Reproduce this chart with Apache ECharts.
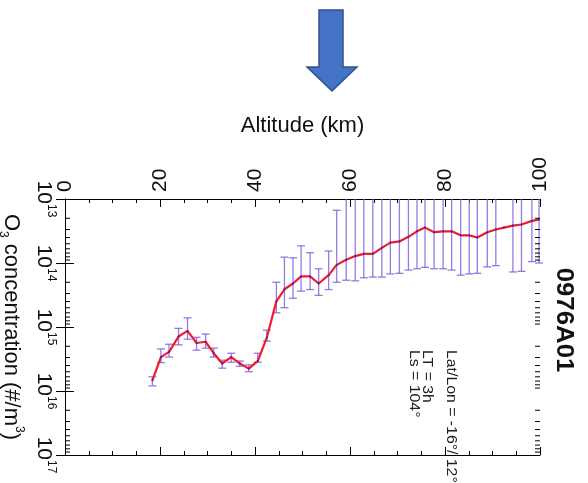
<!DOCTYPE html>
<html><head><meta charset="utf-8">
<script src="https://cdn.jsdelivr.net/npm/echarts@6/dist/echarts.min.js"></script>
<style>html,body{margin:0;padding:0;background:#fff}#c{width:588px;height:483px}</style>
</head><body><div id="c"></div>
<script>
// ---- data ----
const altitude = [18.4,20.2,21.9,23.9,25.8,27.7,29.6,31.3,33.1,35.0,36.8,38.7,40.6,42.5,44.5,46.2,48.0,49.7,51.6,53.4,55.5,57.2,59.2,61.1,62.9,64.8,66.7,68.5,70.4,72.3,74.1,75.8,77.7,79.6,81.4,83.3,85.1,86.8,88.9,90.7,92.4,94.3,96.1,98.3,99.8];
const o3 = [6.8e15,2.95e15,2.45e15,1.41e15,1.15e15,1.78e15,1.70e15,2.57e15,3.72e15,2.95e15,3.72e15,4.47e15,3.39e15,1.45e15,3.98e14,2.57e14,2.09e14,1.62e14,1.62e14,2.09e14,1.55e14,1.07e14,8.9e13,7.8e13,7.2e13,7.2e13,5.8e13,4.8e13,4.6e13,3.9e13,3.2e13,2.8e13,3.3e13,3.2e13,3.2e13,3.7e13,3.7e13,4.0e13,3.3e13,3.0e13,2.8e13,2.6e13,2.5e13,2.2e13,2.1e13];
// lower / upper error bound (0 = bound below zero, bar runs off the plot)
const errLow = [6.0e15,2.2e15,1.86e15,1.05e15,7.2e14,1.45e15,1.29e15,2.14e15,3.3e15,2.57e15,3.4e15,3.9e15,2.57e15,1.12e15,2.0e14,8.1e13,8.3e13,5.4e13,6.9e13,1.23e14,6.5e13,1.5e13,0,0,0,0,0,0,0,0,0,0,0,0,0,0,0,0,0,0,null,0,0,0,0];
const errHigh = [8.3e15,3.6e15,2.95e15,1.9e15,1.55e15,2.3e15,2.14e15,2.95e15,4.4e15,3.55e15,4.1e15,5.0e15,3.55e15,1.66e15,6.0e14,5.0e14,3.55e14,2.75e14,2.6e14,3.2e14,2.6e14,2.0e14,1.86e14,1.9e14,1.7e14,1.66e14,1.66e14,1.48e14,1.45e14,1.29e14,1.23e14,1.17e14,1.23e14,1.23e14,1.29e14,1.55e14,1.48e14,1.45e14,1.15e14,1.10e14,null,1.38e14,1.35e14,9.5e13,1.0e14];
const altTicks = [0,20,40,60,80,100];
const concDecades = [1e13,1e14,1e15,1e16,1e17];
const profileId = '0976A01';
const annotation = ['Lat/Lon = -16\u00b0/ 12\u00b0','LT = 3h','Ls = 104\u00b0'];
const xTitle = 'Altitude (km)';

const FONT = '"Liberation Sans", Arial, Helvetica, sans-serif';
const minorTicks = [];
concDecades.slice(0, -1).forEach(d => { for (let k = 2; k <= 9; k++) minorTicks.push(d * k); });

const chart = echarts.init(document.getElementById('c'), null, {renderer: 'canvas'});
const axisCommonX = {
  type: 'value', min: altTicks[0], max: altTicks[altTicks.length - 1], interval: altTicks[1] - altTicks[0],
  axisLine: {show: true, lineStyle: {color: '#000', width: 1}},
  axisTick: {show: true, inside: true, length: 8, lineStyle: {color: '#000', width: 1}},
  minorTick: {show: true, splitNumber: 4, length: 4, lineStyle: {color: '#000', width: 1}},
  splitLine: {show: false}, minorSplitLine: {show: false}
};
const axisCommonY = {
  type: 'log', logBase: 10, min: concDecades[0], max: concDecades[concDecades.length - 1], inverse: true,
  axisLine: {show: true, lineStyle: {color: '#000', width: 1}},
  axisTick: {show: true, inside: true, length: 9, lineStyle: {color: '#000', width: 1}},
  splitLine: {show: false}
};

const option = {
  animation: false,
  backgroundColor: '#fff',
  grid: {left: 65, right: 48, top: 199, bottom: 28, containLabel: false, outerBoundsMode: 'none'},
  xAxis: [
    Object.assign({}, axisCommonX, {
      position: 'top',
      axisLabel: {rotate: -90, fontSize: 21, color: '#111', margin: 7, fontFamily: FONT},
      name: xTitle, nameLocation: 'middle', nameGap: 62,
      nameTextStyle: {fontSize: 22, color: '#111', fontFamily: FONT}
    }),
    Object.assign({}, axisCommonX, {position: 'bottom', axisLabel: {show: false}})
  ],
  yAxis: [
    Object.assign({}, axisCommonY, {
      position: 'left',
      axisLabel: {
        rotate: -90, margin: 8, color: '#111',
        formatter: v => '{b|10}{s|' + Math.round(Math.log10(v)) + '}',
        rich: {
          b: {fontSize: 21, fontFamily: FONT, color: '#111', verticalAlign: 'bottom', lineHeight: 24},
          s: {fontSize: 12, fontFamily: FONT, color: '#111', verticalAlign: 'top', lineHeight: 24}
        }
      },
      name: '{n|O}{sub|3}{n| concentration (#/m}{sup|3}{n|)}',
      nameLocation: 'middle', nameRotate: -90, nameGap: 38,
      nameTextStyle: {
        rich: {
          n: {fontSize: 22, fontFamily: FONT, color: '#111', verticalAlign: 'middle', lineHeight: 28},
          sub: {fontSize: 12, fontFamily: FONT, color: '#111', verticalAlign: 'bottom', lineHeight: 28},
          sup: {fontSize: 12, fontFamily: FONT, color: '#111', verticalAlign: 'top', lineHeight: 28}
        }
      }
    }),
    Object.assign({}, axisCommonY, {position: 'right', axisLabel: {show: false}})
  ],
  graphic: [
    {type: 'polygon', shape: {points: [[319,10],[343,10],[343,67],[357,67],[332,91],[307,67],[319,67]]},
     style: {fill: '#4472C4', stroke: '#2F528F', lineWidth: 1.5}},
    {type: 'text', x: 563, y: 320, rotation: -Math.PI / 2, scaleX: 1.12,
     style: {text: profileId, font: 'bold 23px ' + FONT, fill: '#111', align: 'center', verticalAlign: 'middle', textAlign: 'center', textVerticalAlign: 'middle'}},
    {type: 'text', x: 451, y: 350, rotation: -Math.PI / 2, scaleX: 1.13,
     style: {text: annotation[0], font: '14px ' + FONT, fill: '#222', align: 'left', verticalAlign: 'middle', textAlign: 'left', textVerticalAlign: 'middle'}},
    {type: 'text', x: 427, y: 350, rotation: -Math.PI / 2, scaleX: 1.13,
     style: {text: annotation[1], font: '14px ' + FONT, fill: '#222', align: 'left', verticalAlign: 'middle', textAlign: 'left', textVerticalAlign: 'middle'}},
    {type: 'text', x: 414, y: 350, rotation: -Math.PI / 2, scaleX: 1.13,
     style: {text: annotation[2], font: '14px ' + FONT, fill: '#222', align: 'left', verticalAlign: 'middle', textAlign: 'left', textVerticalAlign: 'middle'}}
  ],
  series: [
    {
      type: 'custom', name: 'minorTicks', xAxisIndex: 0, yAxisIndex: 0, silent: true, clip: false,
      data: minorTicks.map(v => [0, v]),
      encode: {x: 0, y: 1},
      renderItem: (params, api) => {
        const cs = params.coordSys;
        const y = api.coord([0, api.value(1)])[1];
        return {type: 'group', children: [
          {type: 'line', shape: {x1: cs.x, y1: y, x2: cs.x + 5, y2: y}, style: {stroke: '#000', lineWidth: 1}},
          {type: 'line', shape: {x1: cs.x + cs.width, y1: y, x2: cs.x + cs.width - 5, y2: y}, style: {stroke: '#000', lineWidth: 1}}
        ]};
      },
      z: 5
    },
    {
      type: 'custom', name: 'error', xAxisIndex: 0, yAxisIndex: 0, silent: true, clip: false,
      data: altitude.map((a, i) => [a, errLow[i], errHigh[i]]).filter(d => d[2] !== null),
      encode: {x: 0, y: [1, 2]},
      renderItem: (params, api) => {
        const cs = params.coordSys;
        const a = api.value(0), lo = api.value(1), hi = api.value(2);
        const x = api.coord([a, 1e15])[0];
        let yTop, capTop = true;
        if (!(lo > 0)) { yTop = cs.y; capTop = false; }
        else { yTop = api.coord([a, lo])[1]; if (yTop < cs.y) { yTop = cs.y; capTop = false; } }
        const yBot = api.coord([a, hi])[1];
        const st = {stroke: '#8463dc', lineWidth: 1.3, opacity: 0.85};
        const ch = [{type: 'line', shape: {x1: x, y1: yTop, x2: x, y2: yBot}, style: st},
                    {type: 'line', shape: {x1: x - 4, y1: yBot, x2: x + 4, y2: yBot}, style: st}];
        if (capTop) ch.push({type: 'line', shape: {x1: x - 4, y1: yTop, x2: x + 4, y2: yTop}, style: st});
        return {type: 'group', children: ch};
      },
      z: 3
    },
    {
      type: 'line', name: 'O3', xAxisIndex: 0, yAxisIndex: 0,
      data: altitude.map((a, i) => [a, o3[i]]),
      symbol: 'circle', symbolSize: 2, showSymbol: true,
      itemStyle: {color: '#3a2a9a'},
      lineStyle: {color: '#ee1c2e', width: 2.2},
      z: 4
    }
  ]
};
chart.setOption(option);
</script></body></html>
